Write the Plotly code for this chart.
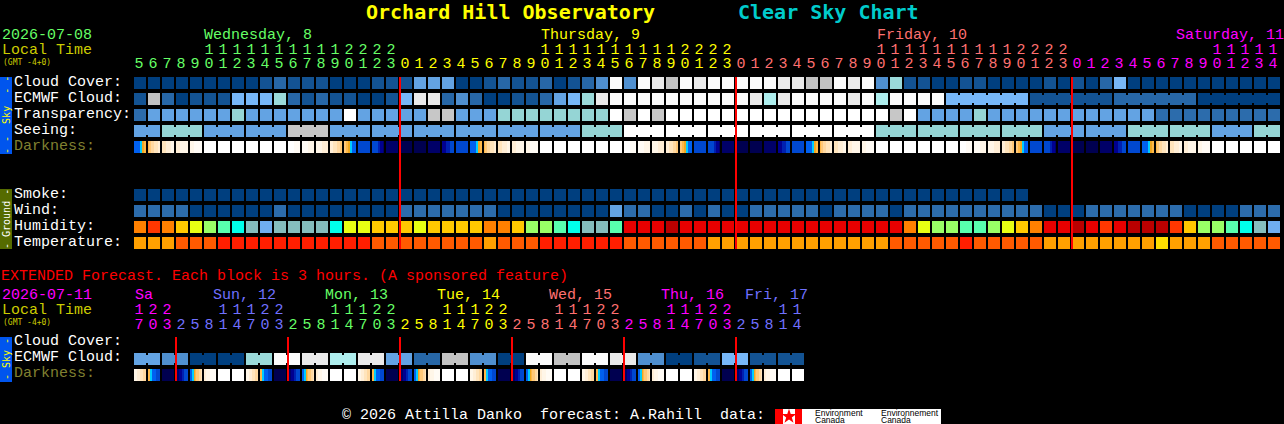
import plotly.graph_objects as go

# hours along the top of the two charts
top_hours = [5, 6, 7, 8, 9, 10, 11, 12, 13, 14, 15, 16, 17, 18, 19, 20, 21, 22, 23,
             0, 1, 2, 3, 4, 5, 6, 7, 8, 9, 10, 11, 12, 13, 14, 15, 16, 17, 18, 19, 20, 21, 22, 23,
             0, 1, 2, 3, 4, 5, 6, 7, 8, 9, 10, 11, 12, 13, 14, 15, 16, 17, 18, 19, 20, 21, 22, 23,
             0, 1, 2, 3, 4, 5, 6, 7, 8, 9, 10, 11, 12, 13, 14]
ext_hours = [17, 20, 23,
             2, 5, 8, 11, 14, 17, 20, 23,
             2, 5, 8, 11, 14, 17, 20, 23,
             2, 5, 8, 11, 14, 17, 20, 23,
             2, 5, 8, 11, 14, 17, 20, 23,
             2, 5, 8, 11, 14, 17, 20, 23,
             2, 5, 8, 11, 14]

# colour lists, one index per forecast class
cloud_colors = ['#003F7F', '#135393', '#2767A7', '#4F8FCF', '#63A3E3', '#77B7F7',
                '#9ADADA', '#AEEEEE', '#C2C2C2', '#EAEAEA', '#FBFBFB']
sky_colors = ['#003F7F', '#2C6CAC', '#63A3E3', '#95D5D5', '#C7C7C7', '#FFFFFF']
humidity_colors = ['#B90000', '#E80000', '#FF3700', '#FF8000', '#FFC800', '#E8FF13',
                   '#99FF66', '#58FFAE', '#00FFEA', '#85BEBE', '#6FAEF0']
temp_colors = ['#FF1E00', '#FF5A00', '#FFA000', '#FFDF00']
dark_colors = ['#000050', '#000068', '#000090', '#0020B0', '#0048D0', '#0060F0', '#00CCFF',
               '#F0A820', '#FFB848', '#FFC878', '#FFD8A0', '#FFE4BC', '#FFEED6', '#FFF6E8',
               '#FFFBF5', '#FFFFFF']

cloud_cover = [0, 0, 0, 0, 0, 0, 0, 0, 0, 1, 2, 1, 1, 1, 0, 0, 0, 1, 1, 1, 4,
               4, 4, 0, 0, 1, 2, 1, 1, 2, 0, 1, 2, 3, 10, 3, 10, 9, 8, 10, 9, 10, 10, 10,
               10, 10, 9, 9, 8, 8, 10, 9,
               10, 3, 6, 1, 1, 0, 0, 1, 1, 0, 0, 0, 0, 1, 0, 1, 0, 2, 5, 0, 0, 0, 0, 0, 0, 0, 0, 0, 0, 0]
ecmwf_cloud = [1, 8, 2, 0, 1, 1, 1, 5, 5, 5, 6, 2, 1, 2, 1, 1, 0, 0, 1, 5, 9,
               9, 2, 3, 2, 0, 0, 1, 1, 2, 4, 5, 6, 9, 10, 10, 10, 10, 10, 10, 10, 10, 10, 10,
               9, 7, 9, 10, 10, 10, 10, 9,
               10, 7, 10, 10, 10, 10, 5, 5, 5, 5, 5, 5, 1, 1, 1, 1, 1, 1,
               2, 2, 2, 2, 2, 2, 0, 0, 0, 0, 0, 0]
ecmwf_blocks = [(58, 63), (64, 69), (70, 75), (76, 81)]
transparency = [1, 2, 2, 2, 2, 2, 2, 3, 2, 2, 2, 2, 2, 2, 2, 5, 2, 2, 2, 2, 2,
                4, 4, 2, 2, 2, 3, 3, 3, 3, 3, 3, 3, 3, 5, 4, 5, 4, 5, 5, 5, 5, 5, 5,
                5, 5, 5, 5, 5, 5, 5, 5,
                5, 5, 4, 5, 2, 2, 2, 2, 3, 2, 2, 2, 2, 2, 2, 2, 2, 2, 2, 2, 2, 1, 1, 1, 1, 1, 1, 1, 1, 1]
seeing = [2, 2, 3, 3, 3, 2, 2, 2, 2, 2, 2, 4, 4, 4, 2, 2, 2, 2, 2, 2, 2, 2, 2,
          2, 2, 2, 2, 2, 2, 2, 2, 2, 3, 3, 3, 5, 5, 5, 5, 5, 5, 5, 5, 5,
          5, 5, 5, 5, 5, 5, 5, 5, 5, 3, 3, 3, 3, 3, 3, 3, 3, 3, 3, 3, 3,
          2, 2, 2, 2, 2, 2, 3, 3, 3, 3, 3, 3, 2, 2, 2, 3, 3]
seeing_blocks = [(0, 1), (2, 4), (5, 7), (8, 10), (11, 13), (14, 16), (17, 19), (20, 22),
                 (23, 25), (26, 28), (29, 31), (32, 34), (35, 37), (38, 40), (41, 43),
                 (44, 46), (47, 49), (50, 52), (53, 55), (56, 58), (59, 61), (62, 64),
                 (65, 67), (68, 70), (71, 73), (74, 76), (77, 79), (80, 81)]
smoke = [0] * 64
wind = [1, 1, 1, 1, 0, 0, 0, 0, 0, 0, 1, 0, 0, 0, 0, 0, 0, 0, 0, 1, 1,
        1, 1, 1, 1, 1, 0, 0, 0, 0, 0, 0, 0, 0, 2, 1, 1, 0, 0, 1, 0, 1, 0, 0,
        1, 1, 1, 1, 1, 0, 1, 1,
        1, 1, 0, 1, 1, 1, 1, 1, 1, 1, 1, 1, 1, 0, 0, 0, 1, 1, 1, 1, 1, 1, 1, 0, 0, 0, 0, 1, 1, 1]
humidity = [3, 2, 3, 4, 5, 6, 7, 8, 9, 10, 9, 9, 9, 9, 8, 5, 5, 4, 4, 4, 5,
            4, 4, 4, 4, 3, 3, 4, 6, 6, 7, 8, 9, 9, 7, 1, 1, 1, 0, 1, 1, 1, 1, 1,
            1, 1, 1, 1, 1, 1, 1, 1,
            1, 1, 1, 3, 5, 6, 6, 7, 7, 6, 5, 4, 3, 1, 1, 0, 1, 2, 1, 0, 0, 0, 2, 4, 6, 6, 7, 8, 9, 10]
temperature = [2, 2, 2, 1, 1, 1, 0, 0, 0, 0, 0, 0, 0, 0, 0, 0, 0, 1, 1, 1, 1,
               1, 1, 1, 1, 2, 1, 1, 1, 0, 0, 0, 0, 0, 0, 1, 1, 1, 1, 1, 1, 2, 2, 2,
               2, 2, 2, 2, 2, 2, 2, 2,
               2, 2, 1, 1, 1, 1, 1, 0, 1, 1, 1, 1, 1, 2, 2, 2, 2, 2, 2, 2, 2, 3, 2, 2, 2, 1, 1, 1, 1, 1]

# darkness changes inside a block, so each hour is a string of pixel classes (hex index)
dark_by_hour = {
    0: '000000000000', 1: '000000000000', 2: '111111111111', 3: '222233334444', 4: '444444444444',
    5: '555555667788', 6: '899aaabbbbcc', 7: 'bbbbcccccddd', 8: 'ccccdddddddd', 9: 'ddddeeeeeeee',
    10: 'ffffffffffff', 11: 'ffffffffffff', 12: 'ffffffffffff', 13: 'ffffffffffff',
    14: 'ffffffffffff', 15: 'ffffffffffff', 16: 'ffffffeeeeee', 17: 'eeeeeedddddd',
    18: 'ddddddcccccc', 19: 'cccbbbbaaa99', 20: '998877665555', 21: '444444444444',
    22: '444444332221', 23: '111111111111',
}
ext_dark_by_hour = {
    17: 'dddcccbbbaaa', 20: '886655554444', 23: '000000000000', 2: '111222334444',
    5: '556678999aab', 8: 'ccddddeeeeee', 11: 'ffffffffffff', 14: 'ffffffffffff',
}

ext_ecmwf = [4, 3, 0, 0, 6, 10, 9, 7, 9, 4, 2, 8, 3, 0, 10, 8, 10, 9, 3, 0, 1, 5, 1, 1]

top_days = ['Wednesday, 8', 'Thursday, 9', 'Friday, 10', 'Saturday, 11']
top_day_colors = ['#66FF66', '#FFFF00', '#FF7070', '#FF00FF']
top_day_x = [204, 541, 877, 1176]
top_midnights = [19, 43, 67]
ext_days = ['Sa', 'Sun, 12', 'Mon, 13', 'Tue, 14', 'Wed, 15', 'Thu, 16', 'Fri, 17']
ext_day_colors = ['#FF00FF', '#7070FF', '#66FF66', '#FFFF00', '#FF7070', '#FF00FF', '#7070FF']
ext_day_x = [135, 213, 325, 437, 549, 661, 745]
ext_midnights = [3, 11, 19, 27, 35, 43]

MONO = 'Liberation Mono'
BOLD_MONO = 'DejaVu Sans Mono'


def xp(px):
    # axis x is in blocks: one block is 14 pixels and block 0 is centred on pixel 140
    return (px - 140) / 14


def add_row(fig, values, colors, top):
    fig.add_trace(go.Heatmap(
        z=[values],
        x=[i - 0.5 for i in range(len(values) + 1)],
        y=[top, top + 12],
        xgap=2,
        zmin=0, zmax=len(colors) - 1,
        colorscale=[[i / (len(colors) - 1), c] for i, c in enumerate(colors)],
        showscale=False, hoverinfo='skip',
    ))


def add_links(fig, values, colors, top, blocks):
    # blocks with the same forecast are joined by a narrower strip
    for first, last in blocks:
        fig.add_trace(go.Scatter(
            x=[first, last], y=[top + 6, top + 6], mode='lines',
            line=dict(color=colors[values[first]], width=8),
            hoverinfo='skip',
        ))


def add_darkness(fig, cells, top):
    row = []
    for cell in cells:
        row += [int(c, 16) for c in cell] + [None, None]
    fig.add_trace(go.Heatmap(
        z=[row],
        x=[xp(134 + i) for i in range(len(row) + 1)],
        y=[top, top + 12],
        zmin=0, zmax=len(dark_colors) - 1,
        colorscale=[[i / (len(dark_colors) - 1), c] for i, c in enumerate(dark_colors)],
        showscale=False, hoverinfo='skip',
    ))


def add_hours(fig, hours, colors, y_tens, y_units):
    fig.add_trace(go.Scatter(
        x=[i - 0.07 for i in range(len(hours))], y=[y_units] * len(hours), mode='text',
        text=[str(h % 10) for h in hours],
        textfont=dict(family=MONO, size=15, color=colors),
        hoverinfo='skip',
    ))
    tens = [i for i, h in enumerate(hours) if h >= 10]
    fig.add_trace(go.Scatter(
        x=[i - 0.07 for i in tens], y=[y_tens] * len(tens), mode='text',
        text=[str(hours[i] // 10) for i in tens],
        textfont=dict(family=MONO, size=15, color=[colors[i] for i in tens]),
        hoverinfo='skip',
    ))


def add_redlines(fig, cols, y0, y1):
    # the line sits on the left edge of the block that starts the day
    xs, ys = [], []
    for c in cols:
        xs += [xp(134 + 14 * c), xp(134 + 14 * c), None]
        ys += [y0, y1, None]
    fig.add_trace(go.Scatter(x=xs, y=ys, mode='lines', line=dict(color='#FF0000', width=2),
                             hoverinfo='skip'))


def label(text, x, y, color='#FFFFFF', size=15, family=MONO, angle=0, anchor='left', weight='normal'):
    # annotations land 1 px right of the asked position
    return dict(text=text, x=xp(x - 1), y=y, xref='x', yref='y', showarrow=False, xanchor=anchor,
                yanchor='middle', textangle=angle, borderpad=0,
                font=dict(family=family, size=size, color=color, weight=weight))


fig = go.Figure()

# main chart
add_row(fig, cloud_cover, cloud_colors, 77)
add_row(fig, ecmwf_cloud, cloud_colors, 93)
add_links(fig, ecmwf_cloud, cloud_colors, 93, ecmwf_blocks)
add_row(fig, transparency, sky_colors, 109)
add_row(fig, seeing, sky_colors, 125)
add_links(fig, seeing, sky_colors, 125, seeing_blocks)
add_darkness(fig, [dark_by_hour[h] for h in top_hours], 141)
add_row(fig, smoke, sky_colors, 189)
add_row(fig, wind, sky_colors, 205)
add_row(fig, humidity, humidity_colors, 221)
add_row(fig, temperature, temp_colors, 237)
add_redlines(fig, top_midnights, 77, 249)

# extended chart, each ECMWF value covers two blocks
ext_cells = [v for v in ext_ecmwf for _ in range(2)]
add_row(fig, ext_cells, cloud_colors, 353)
add_links(fig, ext_cells, cloud_colors, 353, [(i * 2, i * 2 + 1) for i in range(len(ext_ecmwf))])
add_darkness(fig, [ext_dark_by_hour[h] for h in ext_hours], 369)
add_redlines(fig, ext_midnights, 337, 381)

# hour digits, coloured by day
top_hour_colors = (top_day_colors[0:1] * 19 + top_day_colors[1:2] * 24
                   + top_day_colors[2:3] * 24 + top_day_colors[3:4] * 15)
add_hours(fig, top_hours, top_hour_colors, 50, 64)
ext_hour_colors = (ext_day_colors[0:1] * 3 + ext_day_colors[1:2] * 8 + ext_day_colors[2:3] * 8
                   + ext_day_colors[3:4] * 8 + ext_day_colors[4:5] * 8 + ext_day_colors[5:6] * 8
                   + ext_day_colors[6:7] * 5)
add_hours(fig, ext_hours, ext_hour_colors, 310, 325)

# maple leaf on the flag
fig.add_trace(go.Scatter(x=[xp(789)], y=[416.5], mode='markers',
                         marker=dict(symbol='star', size=11, color='#FF0000'), hoverinfo='skip'))

annotations = [
    label('Orchard Hill Observatory', 366, 12, '#FFFF00', 20, BOLD_MONO, weight='bold'),
    label('Clear Sky Chart', 738, 12, '#00CCCC', 20, BOLD_MONO, weight='bold'),
    label('2026-07-08', 2, 35, '#66FF66'),
    label('Local Time', 2, 50, '#CCCC00'),
    label('(GMT -4+0)', 3, 62, '#CCCC00', 8, BOLD_MONO),
    label('Cloud Cover:', 14, 82),
    label('ECMWF Cloud:', 14, 98),
    label('Transparency:', 14, 114),
    label('Seeing:', 14, 130),
    label('Darkness:', 14, 146, '#808030'),
    label('Smoke:', 14, 194),
    label('Wind:', 14, 210),
    label('Humidity:', 14, 226),
    label('Temperature:', 14, 242),
    label('- -  Sky  - -', 7, 115, '#FFFF00', 10, BOLD_MONO, angle=-90, anchor='center'),
    label('- Ground -', 7, 219, '#FFFFFF', 10, BOLD_MONO, angle=-90, anchor='center'),
    label('EXTENDED Forecast. Each block is 3 hours. (A sponsored feature)', 1, 276, '#FF0000'),
    label('2026-07-11', 2, 295, '#FF00FF'),
    label('Local Time', 2, 310, '#CCCC00'),
    label('(GMT -4+0)', 3, 322, '#CCCC00', 8, BOLD_MONO),
    label('Cloud Cover:', 14, 341),
    label('ECMWF Cloud:', 14, 357),
    label('Darkness:', 14, 373, '#808030'),
    label('- Sky -', 7, 359, '#FFFF00', 10, BOLD_MONO, angle=-90, anchor='center'),
    label('© 2026 Attilla Danko  forecast: A.Rahill  data:', 342, 415),
    label('Environment', 815, 412.5, '#000000', 8.5, 'Liberation Sans'),
    label('Canada', 815, 420, '#000000', 8.5, 'Liberation Sans'),
    label('Environnement', 881, 412.5, '#000000', 8.5, 'Liberation Sans'),
    label('Canada', 881, 420, '#000000', 8.5, 'Liberation Sans'),
]
for name, color, x in zip(top_days, top_day_colors, top_day_x):
    annotations.append(label(name, x, 35, color))
for name, color, x in zip(ext_days, ext_day_colors, ext_day_x):
    annotations.append(label(name, x, 295, color))


def box(x0, x1, y0, y1, color):
    return dict(type='rect', xref='x', yref='y', x0=xp(x0), x1=xp(x1), y0=y0, y1=y1,
                fillcolor=color, line_width=0, layer='below')


shapes = [
    box(0, 12, 77, 154, '#0055EE'),
    box(0, 12, 189, 249, '#556B00'),
    box(0, 12, 337, 382, '#0055EE'),
    box(775, 783, 409, 424, '#FF0000'),
    box(783, 795, 409, 424, '#FFFFFF'),
    box(795, 802, 409, 424, '#FF0000'),
    box(802, 941, 409, 424, '#FFFFFF'),
]

fig.update_layout(
    width=1284, height=424,
    margin=dict(l=0, r=0, t=0, b=0),
    paper_bgcolor='#000000', plot_bgcolor='#000000',
    showlegend=False,
    xaxis=dict(range=[xp(0), xp(1284)], visible=False, fixedrange=True),
    yaxis=dict(range=[424, 0], visible=False, fixedrange=True),
    annotations=annotations,
    shapes=shapes,
)

# the page default body margin would push the chart 8 px off
fig.write_html("out.html", config={'displayModeBar': False},
               post_script="document.body.style.margin='0';document.body.style.overflow='hidden';")
